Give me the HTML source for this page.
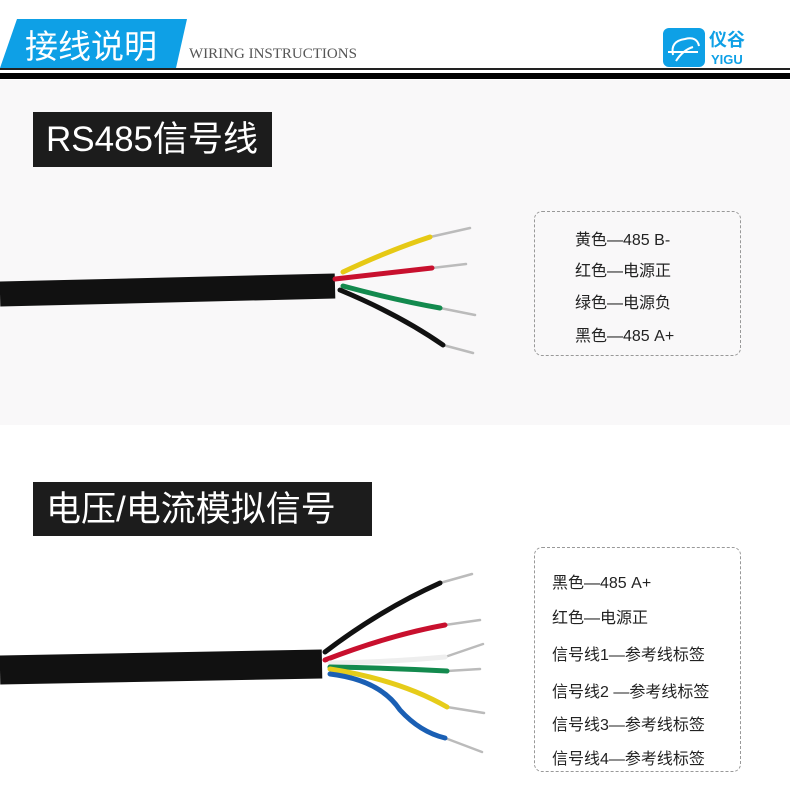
<!DOCTYPE html>
<html><head><meta charset="utf-8"><style>
body{margin:0;width:790px;height:789px;background:#fff;position:relative;overflow:hidden;font-family:"Liberation Sans","Noto Sans CJK SC",sans-serif}
.a{position:absolute}
.t{position:absolute;background:#1c1c1c;color:#fff;font-size:35px;line-height:55px;padding-left:13px;box-sizing:border-box}
.box{position:absolute;border:1px dashed #999;border-radius:8px;box-sizing:border-box}
.l{position:absolute;font-size:16px;color:#222;white-space:nowrap}
</style></head><body>
<div class="a" style="left:0;top:80px;width:790px;height:345px;background:#f9f8f9"></div>
<svg class="a" style="left:0;top:0" width="790" height="80">
<polygon points="17,19 187,19 176,68 0,68" fill="#0ea0e6"/>
<text x="25" y="58" fill="#fff" font-size="33" font-family="Noto Sans CJK SC,sans-serif">接线说明</text>
<text x="189" y="58" fill="#555" font-size="15" font-family="Liberation Serif,serif">WIRING INSTRUCTIONS</text>
<rect x="0" y="68" width="790" height="2" fill="#222"/>
<rect x="0" y="73" width="790" height="6" fill="#000"/>
<rect x="663" y="28" width="42" height="39" rx="6" fill="#0ea0e6"/>
<path d="M673,55 q-3,-14 12,-16 q12,-3 14,7 M668,52 h30 M676,61 q7,-11 17,-14" stroke="#fff" stroke-width="2" fill="none"/>
<text x="709" y="46" fill="#0ea0e6" font-size="18" font-weight="bold" font-family="Noto Sans CJK SC,sans-serif">仪谷</text>
<text x="711" y="64" fill="#0ea0e6" font-size="13" font-weight="bold" font-family="Liberation Sans,sans-serif">YIGU</text>
</svg>
<div class="t" style="left:33px;top:112px;width:239px;height:55px">RS485信号线</div>
<div class="t" style="left:33px;top:482px;width:339px;height:54px">电压/电流模拟信号</div>
<svg class="a" style="left:0;top:0" width="520" height="789">
<g fill="none" stroke-linecap="round">
<path d="M0,294 L335,286" stroke="#111" stroke-width="25" stroke-linecap="butt"/>
<g stroke="#bbb" stroke-width="2.5"><path d="M430,237 L470,228"/><path d="M432,268 L466,264"/><path d="M440,308 L475,315"/><path d="M443,345 L473,353"/></g>
<path d="M343,272 Q390,250 430,237" stroke="#e6c915" stroke-width="5"/>
<path d="M335,279 L432,268" stroke="#c8102e" stroke-width="5"/>
<path d="M343,286 Q395,300 440,308" stroke="#138a4e" stroke-width="5"/>
<path d="M340,290 Q400,315 443,345" stroke="#111" stroke-width="5"/>
<path d="M0,670 L322,664" stroke="#111" stroke-width="29" stroke-linecap="butt"/>
<g stroke="#bbb" stroke-width="2.5"><path d="M440,583 L472,574"/><path d="M445,625 L480,620"/><path d="M445,657 L483,644"/><path d="M447,671 L480,669"/><path d="M447,707 L484,713"/><path d="M445,738 L482,752"/></g>
<path d="M325,652 Q380,610 440,583" stroke="#111" stroke-width="5"/>
<path d="M325,660 Q390,635 445,625" stroke="#c8102e" stroke-width="5"/>
<path d="M330,663 Q390,662 445,657" stroke="#eee" stroke-width="5"/>
<path d="M330,667 Q390,668 447,671" stroke="#138a4e" stroke-width="5"/>
<path d="M330,669 Q400,680 447,707" stroke="#e6cc1a" stroke-width="5"/>
<path d="M330,674 Q380,680 400,710 Q420,732 445,738" stroke="#1a5fb4" stroke-width="5"/>
</g></svg>
<div class="box" style="left:534px;top:211px;width:207px;height:145px"></div>
<div class="l" style="left:575px;top:226px">黄色—485 B-</div>
<div class="l" style="left:575px;top:257px">红色—电源正</div>
<div class="l" style="left:575px;top:289px">绿色—电源负</div>
<div class="l" style="left:575px;top:322px">黑色—485 A+</div>
<div class="box" style="left:534px;top:547px;width:207px;height:225px"></div>
<div class="l" style="left:552px;top:569px">黑色—485 A+</div>
<div class="l" style="left:552px;top:604px">红色—电源正</div>
<div class="l" style="left:552px;top:641px">信号线1—参考线标签</div>
<div class="l" style="left:552px;top:678px">信号线2 —参考线标签</div>
<div class="l" style="left:552px;top:711px">信号线3—参考线标签</div>
<div class="l" style="left:552px;top:745px">信号线4—参考线标签</div>
</body></html>
